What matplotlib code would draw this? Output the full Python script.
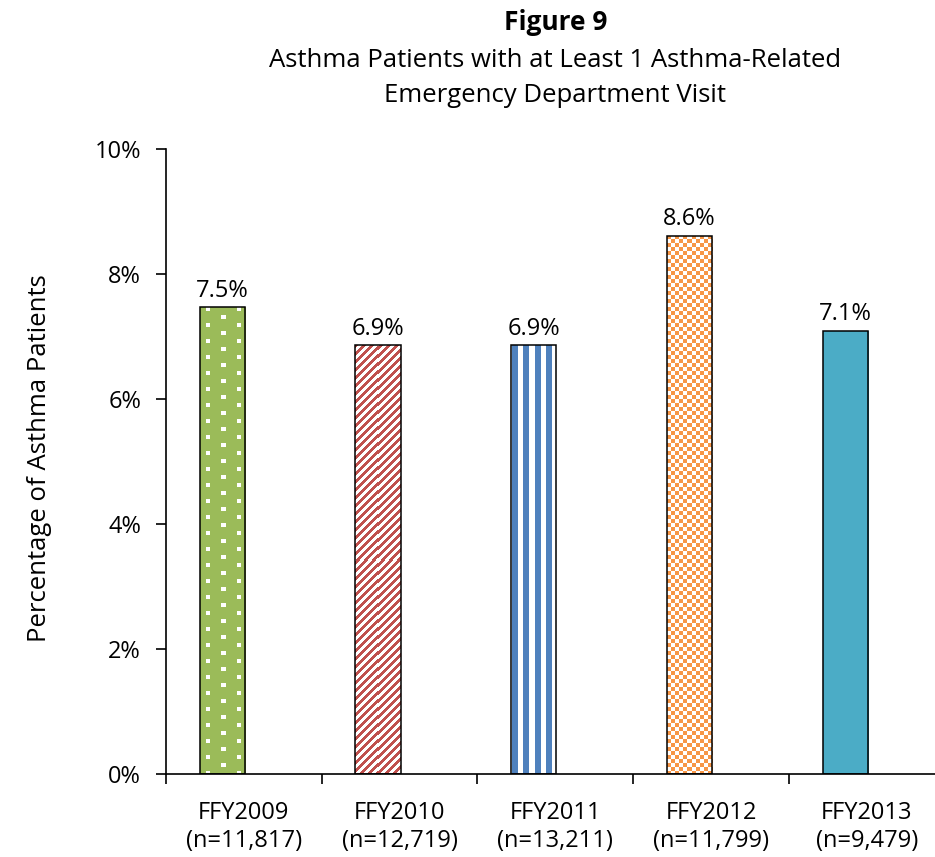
import matplotlib
matplotlib.use('Agg')
import matplotlib.pyplot as plt
import numpy as np

# ── data ───────────────────────────────────────────
years = ['FFY2009', 'FFY2010', 'FFY2011', 'FFY2012', 'FFY2013']
counts = ['n=11,817', 'n=12,719', 'n=13,211', 'n=11,799', 'n=9,479']
pct = [7.47, 6.87, 6.87, 8.62, 7.10]
pct_labels = ['7.5%', '6.9%', '6.9%', '8.6%', '7.1%']
colors = ['#9BBB59', '#C0504D', '#4F81BD', '#F79646', '#4BACC6']
patterns = ['dots', 'diag', 'vert', 'check', 'solid']

plt.rcParams['font.family'] = ['Open Sans', 'DejaVu Sans']
FS = 17        # ticks / value labels
FS_T = 18.5    # title lines

W, H = 935, 857
fig = plt.figure(figsize=(W / 100, H / 100), dpi=100)
ax = fig.add_axes([166 / W, 1 - 774.3 / H, 778.5 / W, 625 / H])

x = np.arange(len(years))
offset = -0.138
bw = 0.29
ax.set_xlim(-0.5, len(years) - 0.5)
ax.set_ylim(0, 10)


def hex_rgb(c):
    c = c.lstrip('#')
    return np.array([int(c[i:i + 2], 16) / 255 for i in (0, 2, 4)])


def make_pattern(kind, color, hp, wp):
    # pixel pattern fill for a bar, hp x wp pixels
    col = hex_rgb(color)
    white = np.ones(3)
    img = np.ones((hp, wp, 3))
    rr, cc = np.mgrid[0:hp, 0:wp]
    if kind == 'dots':
        img[:] = col
        a = ((rr % 16) < 4) & (((cc - 6) % 30) < 4)
        b = (((rr - 8) % 16) < 4) & (((cc - 21) % 30) < 4)
        img[a | b] = white
    elif kind == 'diag':
        m = ((cc + rr) % 8) < 4
        img[m] = col
    elif kind == 'vert':
        m = ((cc - 1) % 11) < 6
        img[m] = col
    elif kind == 'check':
        m = ((rr // 4 + cc // 4) % 2) == 0
        img[m] = col
    else:
        img[:] = col
    return img


bars = ax.bar(x + offset, pct, width=bw, facecolor='none', edgecolor='black',
              linewidth=1.1, zorder=3)
for b, kind, c in zip(bars, patterns, colors):
    x0, y0 = b.get_x(), b.get_y()
    x1, y1 = x0 + b.get_width(), y0 + b.get_height()
    (px0, py0), (px1, py1) = ax.transData.transform([(x0, y0), (x1, y1)])
    wp, hp = max(int(round(px1 - px0)), 1), max(int(round(py1 - py0)), 1)
    im = ax.imshow(make_pattern(kind, c, hp, wp), extent=(x0, x1, y0, y1),
                   origin='upper', interpolation='nearest', aspect='auto',
                   zorder=2)
    im.set_clip_path(b)

for xi, v, lab in zip(x, pct, pct_labels):
    ax.annotate(lab, xy=(xi + offset, v), xytext=(0, 7.5),
                textcoords='offset points', ha='center', va='baseline',
                fontsize=FS)

ax.set_xlim(-0.5, len(years) - 0.5)
ax.set_ylim(0, 10)
ax.set_yticks(np.arange(0, 11, 2))
ax.set_yticklabels([f'{v}%' for v in range(0, 11, 2)])
ax.set_xticks(x)
ax.set_xticklabels([f'{y}\n({n})' for y, n in zip(years, counts)],
                   linespacing=1.25)
ax.set_xticks(np.arange(-0.5, len(years)), minor=True)
ax.tick_params(axis='x', which='major', length=0, pad=19, labelsize=FS)
ax.tick_params(axis='x', which='minor', length=7, width=1.2, direction='out')
ax.tick_params(axis='y', length=7, width=1.2, direction='out', pad=11,
               labelsize=FS)
for s in ('top', 'right'):
    ax.spines[s].set_visible(False)
for s in ('left', 'bottom'):
    ax.spines[s].set_linewidth(1.2)

fig.text(40 / W, 1 - 458 / H, 'Percentage of Asthma Patients', rotation=90,
         ha='center', va='center', fontsize=FS_T)

cx = (166 + 944.5) / 2 / W
fig.text(cx, 1 - 30 / H, 'Figure 9', ha='center', va='baseline',
         fontsize=FS_T + 0.5, fontweight='bold')
fig.text(cx, 1 - 67 / H, 'Asthma Patients with at Least 1 Asthma-Related',
         ha='center', va='baseline', fontsize=FS_T)
fig.text(cx, 1 - 102 / H, 'Emergency Department Visit',
         ha='center', va='baseline', fontsize=FS_T)

fig.savefig('out.png', dpi=100, facecolor='white')
